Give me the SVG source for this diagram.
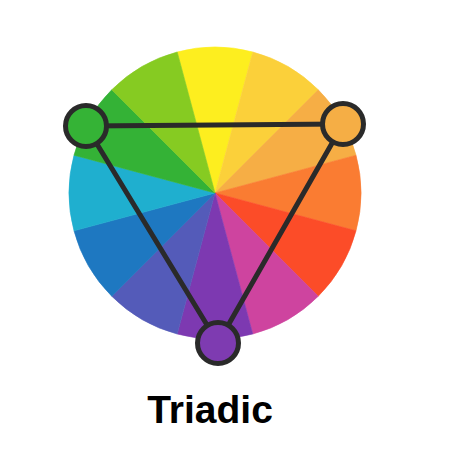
<svg xmlns="http://www.w3.org/2000/svg" width="452" height="452" viewBox="0 0 452 452">
  <style>
    .node { stroke: #2a2a2a; stroke-width: 5; }
    .edge { stroke: #2a2a2a; stroke-width: 5; stroke-linecap: round; fill: none; }
    .label { font-family: "Liberation Sans", Arial, sans-serif; font-weight: bold; font-size: 39px; fill: #000000; }
    .w { stroke-width: 0.6; stroke-linejoin: round; }
  </style>
  <rect width="452" height="452" fill="#ffffff"/>
  <g id="wheel">
    <path class="w" fill="#FDEE1F" stroke="#FDEE1F" d="M215 193 L177.213 51.975 A146 146 0 0 1 252.787 51.975 Z"/>
    <path class="w" fill="#FBD03A" stroke="#FBD03A" d="M215 193 L252.787 51.975 A146 146 0 0 1 318.238 89.762 Z"/>
    <path class="w" fill="#F6AE45" stroke="#F6AE45" d="M215 193 L318.238 89.762 A146 146 0 0 1 356.025 155.213 Z"/>
    <path class="w" fill="#FA7C32" stroke="#FA7C32" d="M215 193 L356.025 155.213 A146 146 0 0 1 356.025 230.787 Z"/>
    <path class="w" fill="#FC4C28" stroke="#FC4C28" d="M215 193 L356.025 230.787 A146 146 0 0 1 318.238 296.238 Z"/>
    <path class="w" fill="#CE449F" stroke="#CE449F" d="M215 193 L318.238 296.238 A146 146 0 0 1 252.787 334.025 Z"/>
    <path class="w" fill="#7D39B1" stroke="#7D39B1" d="M215 193 L252.787 334.025 A146 146 0 0 1 177.213 334.025 Z"/>
    <path class="w" fill="#545BB9" stroke="#545BB9" d="M215 193 L177.213 334.025 A146 146 0 0 1 111.762 296.238 Z"/>
    <path class="w" fill="#1E78C1" stroke="#1E78C1" d="M215 193 L111.762 296.238 A146 146 0 0 1 73.975 230.787 Z"/>
    <path class="w" fill="#1FAFCF" stroke="#1FAFCF" d="M215 193 L73.975 230.787 A146 146 0 0 1 73.975 155.213 Z"/>
    <path class="w" fill="#34B236" stroke="#34B236" d="M215 193 L73.975 155.213 A146 146 0 0 1 111.762 89.762 Z"/>
    <path class="w" fill="#86CB22" stroke="#86CB22" d="M215 193 L111.762 89.762 A146 146 0 0 1 177.213 51.975 Z"/>
  </g>
  <g id="connectors">
    <line class="edge" x1="86" y1="126" x2="343" y2="124"/>
    <line class="edge" x1="86" y1="126" x2="218" y2="343"/>
    <line class="edge" x1="343" y1="124" x2="218" y2="343"/>
  </g>
  <g id="node-green">
    <circle class="node" cx="86" cy="126" r="20.5" fill="#35B336"/>
  </g>
  <g id="node-orange">
    <circle class="node" cx="343" cy="124" r="20.5" fill="#F5AE45"/>
  </g>
  <g id="node-purple">
    <circle class="node" cx="218" cy="343" r="20.5" fill="#7E3BB1"/>
  </g>
  <g id="title">
    <text class="label" x="210" y="423" text-anchor="middle">Triadic</text>
  </g>
</svg>
